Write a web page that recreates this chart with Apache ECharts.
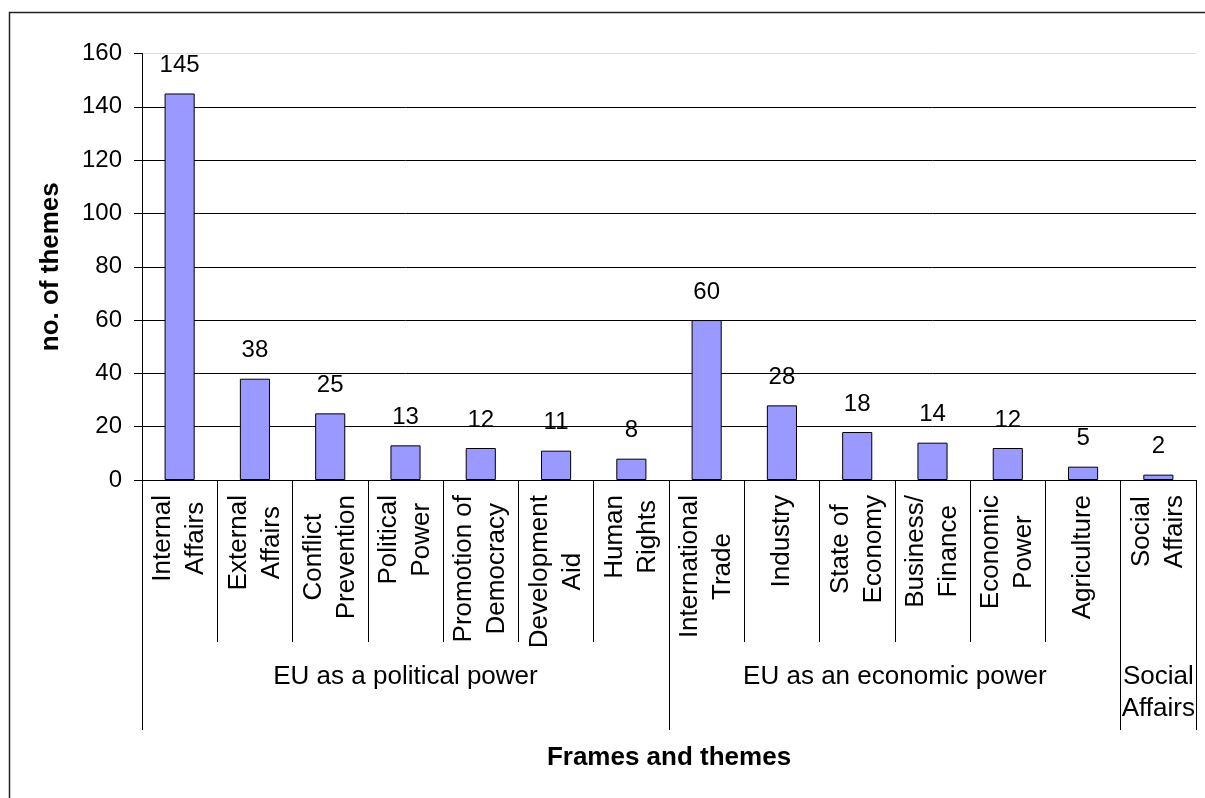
<!DOCTYPE html>
<html>
<head>
<meta charset="utf-8">
<script src="https://cdn.jsdelivr.net/npm/echarts@6/dist/echarts.min.js"></script>
<style>
  html, body { margin: 0; padding: 0; background: #fff; }
  #chart { width: 1205px; height: 798px; }
</style>
</head>
<body>
<div id="chart"></div>
<script>
const categories = [
  'Internal\nAffairs', 'External\nAffairs', 'Conflict\nPrevention', 'Political\nPower',
  'Promotion of\nDemocracy', 'Development\nAid', 'Human\nRights',
  'International\nTrade', 'Industry', 'State of\nEconomy', 'Business/\nFinance',
  'Economic\nPower', 'Agriculture', 'Social\nAffairs'
];
const values = [145, 38, 25, 13, 12, 11, 8, 60, 28, 18, 14, 12, 5, 2];
const groupNames = ['EU as a political power', 'EU as an economic power', 'Social\nAffairs'];
const groupBoundaries = [0, 7, 13, 14];
const yTicks = { min: 0, max: 160, interval: 20 };

const FONT = 'Arial, "Liberation Sans", sans-serif';
const groupCenters = groupBoundaries.slice(0, -1).map((b, i) => (b + groupBoundaries[i + 1]) / 2);

const nLines = (yTicks.max - yTicks.min) / yTicks.interval + 1;
const splitColors = [];
for (let i = 0; i < nLines; i++) splitColors.push(i === nLines - 1 ? '#dcdcdc' : '#000');

const chart = echarts.init(document.getElementById('chart'), null, { renderer: 'canvas' });
chart.setOption({
  animation: false,
  backgroundColor: '#fff',
  textStyle: { fontFamily: FONT },
  graphic: [{
    type: 'rect', silent: true, z: -1,
    shape: { x: 9.5, y: 12.5, width: 1300, height: 900 },
    style: { fill: 'none', stroke: '#222', lineWidth: 1.5 }
  }],
  grid: { left: 142, right: 9, top: 53.5, bottom: 318, containLabel: false },
  xAxis: [{
    type: 'category',
    data: categories,
    boundaryGap: true,
    axisLine: { show: true, lineStyle: { color: '#000', width: 1 } },
    axisTick: { show: true, interval: 0, length: 162, lineStyle: { color: '#000', width: 1 } },
    axisLabel: {
      interval: 0, rotate: 90, margin: 15,
      fontSize: 26, lineHeight: 33, color: '#000', fontFamily: FONT,
      formatter: v => v.split('\n').map(s => '{c|' + s + '}').join('\n'),
      rich: { c: { align: 'center', fontSize: 26, lineHeight: 33, color: '#000', fontFamily: FONT } }
    },
    name: 'Frames and themes',
    nameLocation: 'middle',
    nameGap: 265,
    nameTextStyle: { fontSize: 26, fontWeight: 'bold', color: '#000', fontFamily: FONT }
  }, {
    type: 'value',
    position: 'bottom',
    min: 0, max: categories.length,
    axisLine: { show: false },
    splitLine: { show: false },
    axisTick: { show: true, customValues: groupBoundaries, length: 250, inside: false,
      lineStyle: { color: '#000', width: 1 } },
    axisLabel: {
      show: true, customValues: groupCenters, margin: 181,
      fontSize: 26, lineHeight: 32, color: '#000', fontFamily: FONT,
      formatter: v => {
        const i = groupCenters.findIndex(c => Math.abs(c - v) < 1e-6);
        return i >= 0 ? groupNames[i] : '';
      }
    }
  }],
  yAxis: {
    type: 'value',
    min: yTicks.min, max: yTicks.max, interval: yTicks.interval,
    axisLine: { show: true, lineStyle: { color: '#000', width: 1 } },
    axisTick: { show: true, length: 8, lineStyle: { color: '#000', width: 1 } },
    axisLabel: { margin: 20, fontSize: 24, color: '#000', fontFamily: FONT },
    splitLine: { show: true, lineStyle: { color: splitColors, width: 1 } },
    name: 'no. of themes',
    nameLocation: 'middle',
    nameGap: 78,
    nameTextStyle: { fontSize: 26, fontWeight: 'bold', color: '#000', fontFamily: FONT }
  },
  series: [{
    type: 'bar',
    xAxisIndex: 0,
    data: values,
    barWidth: '40%',
    itemStyle: { color: '#9999FF', borderColor: '#000', borderWidth: 1 },
    label: { show: true, position: 'top', distance: 16, fontSize: 24, color: '#000', fontFamily: FONT }
  }]
});
</script>
</body>
</html>
